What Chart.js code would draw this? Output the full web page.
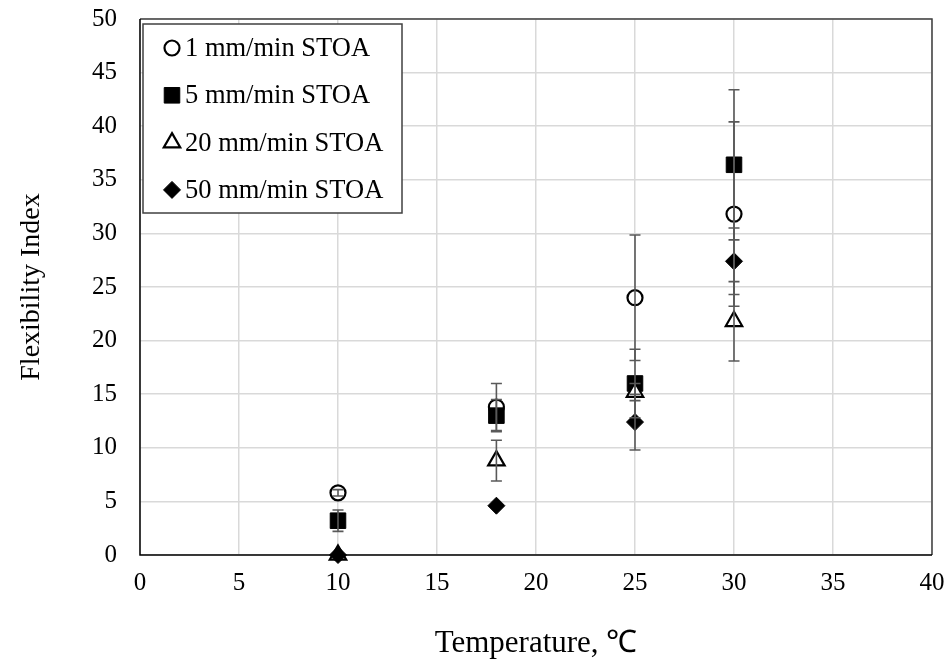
<!DOCTYPE html>
<html>
<head>
<meta charset="utf-8">
<script src="https://cdn.jsdelivr.net/npm/chart.js@4/dist/chart.umd.min.js"></script>
<style>
  html, body { margin: 0; padding: 0; background: #fff; }
  #wrap { width: 951px; height: 669px; }
</style>
</head>
<body>
<div id="wrap"><canvas id="c" width="951" height="669"></canvas></div>
<script>
// Test temperatures (°C)
const temps = [10, 18, 25, 30];

// Flexibility index means and standard deviations per loading rate
const fi1 = [5.8, 13.8, 24.0, 31.8];
const sd1 = [0.3, 2.2, 5.85, 8.6];
const fi5 = [3.2, 13.0, 16.0, 36.4];
const sd5 = [1.0, 1.5, 3.2, 7.0];
const fi20 = [0, 8.8, 15.2, 21.8];
const sd20 = [0, 1.9, 0.8, 3.7];
const fi50 = [0, 4.6, 12.4, 27.4];
const sd50 = [0, 0, 2.6, 3.1];

const seriesNames = ['1 mm/min STOA', '5 mm/min STOA', '20 mm/min STOA', '50 mm/min STOA'];
const xTicks = [0, 5, 10, 15, 20, 25, 30, 35, 40];
const yTicks = [0, 5, 10, 15, 20, 25, 30, 35, 40, 45, 50];

const FONT = "'Liberation Serif', 'Times New Roman', serif";

const pts = (ys) => temps.map((t, i) => ({ x: t, y: ys[i] }));

const styles = [
  { pointStyle: 'circle', radius: 7.5, bg: '#ffffff', border: '#000000', bw: 2.2 },
  { pointStyle: 'rect', radius: 11, bg: '#000000', border: '#000000', bw: 1 },
  { pointStyle: 'triangle', radius: 9.5, bg: '#ffffff', border: '#000000', bw: 2.2 },
  { pointStyle: 'rectRot', radius: 8.5, bg: '#000000', border: '#000000', bw: 1 }
];
const values = [fi1, fi5, fi20, fi50];
const errors = [sd1, sd5, sd20, sd50];

// Later series sit on top of earlier ones
const datasets = values.map((v, k) => ({
  label: seriesNames[k],
  data: pts(v),
  errors: errors[k],
  order: values.length - k,
  pointStyle: styles[k].pointStyle,
  pointRadius: styles[k].radius,
  pointHoverRadius: styles[k].radius,
  pointBackgroundColor: styles[k].bg,
  pointBorderColor: styles[k].border,
  pointBorderWidth: styles[k].bw,
  showLine: false,
  clip: false
}));

// Symmetric error bars
const errorBars = {
  id: 'errorBars',
  afterDatasetsDraw(chart) {
    const { ctx, scales: { x, y } } = chart;
    ctx.save();
    ctx.strokeStyle = '#595959';
    ctx.lineWidth = 1.6;
    chart.data.datasets.forEach((ds) => {
      ds.data.forEach((p, i) => {
        const e = ds.errors[i];
        if (!e) return;
        const px = x.getPixelForValue(p.x);
        const y1 = y.getPixelForValue(p.y + e);
        const y2 = y.getPixelForValue(p.y - e);
        ctx.beginPath();
        ctx.moveTo(px, y1); ctx.lineTo(px, y2);
        ctx.moveTo(px - 5.5, y1); ctx.lineTo(px + 5.5, y1);
        ctx.moveTo(px - 5.5, y2); ctx.lineTo(px + 5.5, y2);
        ctx.stroke();
      });
    });
    ctx.restore();
  }
};

// Frame around the plot area
const frame = {
  id: 'frame',
  beforeDatasetsDraw(chart) {
    const { ctx, chartArea: a } = chart;
    ctx.save();
    ctx.strokeStyle = '#404040';
    ctx.lineWidth = 1.5;
    ctx.beginPath();
    ctx.moveTo(a.left, a.top); ctx.lineTo(a.right, a.top); ctx.lineTo(a.right, a.bottom);
    ctx.stroke();
    ctx.strokeStyle = '#000000';
    ctx.beginPath();
    ctx.moveTo(a.left, a.top); ctx.lineTo(a.left, a.bottom); ctx.lineTo(a.right, a.bottom);
    ctx.stroke();
    ctx.restore();
  }
};

function marker(ctx, style, x, y, r, fill, stroke, bw) {
  ctx.save();
  ctx.fillStyle = fill; ctx.strokeStyle = stroke; ctx.lineWidth = bw;
  ctx.beginPath();
  if (style === 'circle') {
    ctx.arc(x, y, r, 0, Math.PI * 2);
  } else if (style === 'rect') {
    const s = r * Math.SQRT1_2;
    ctx.rect(x - s, y - s, 2 * s, 2 * s);
  } else if (style === 'triangle') {
    for (let k = 0; k < 3; k++) {
      const a = k * 2 * Math.PI / 3;
      const px = x + Math.sin(a) * r, py = y - Math.cos(a) * r;
      k ? ctx.lineTo(px, py) : ctx.moveTo(px, py);
    }
    ctx.closePath();
  } else {
    ctx.moveTo(x, y - r); ctx.lineTo(x + r, y); ctx.lineTo(x, y + r); ctx.lineTo(x - r, y);
    ctx.closePath();
  }
  ctx.fill(); ctx.stroke();
  ctx.restore();
}

// Boxed legend inside the top-left of the plot
const boxLegend = {
  id: 'boxLegend',
  afterDraw(chart) {
    const { ctx, chartArea: a } = chart;
    const x0 = a.left + 3, y0 = a.top + 5, w = 259, h = 189;
    ctx.save();
    ctx.fillStyle = '#ffffff';
    ctx.fillRect(x0, y0, w, h);
    ctx.strokeStyle = '#404040';
    ctx.lineWidth = 1.5;
    ctx.strokeRect(x0, y0, w, h);
    ctx.font = '26.5px ' + FONT;
    ctx.fillStyle = '#000000';
    ctx.textBaseline = 'middle';
    ctx.textAlign = 'left';
    chart.data.datasets.forEach((ds, k) => {
      const cy = y0 + 24 + k * 47.3;
      const st = styles[k];
      marker(ctx, st.pointStyle, x0 + 29, cy, st.radius, st.bg, st.border, st.bw);
      ctx.fillText(ds.label, x0 + 42, cy + 1);
    });
    ctx.restore();
  }
};

new Chart(document.getElementById('c'), {
  type: 'scatter',
  data: { datasets },
  plugins: [frame, errorBars, boxLegend],
  options: {
    responsive: false,
    animation: false,
    events: [],
    layout: { padding: { top: 19, right: 19, left: 0, bottom: 0 } },
    plugins: { legend: { display: false }, tooltip: { enabled: false } },
    scales: {
      x: {
        type: 'linear', min: 0, max: 40,
        afterBuildTicks(s) { s.ticks = xTicks.map(v => ({ value: v })); },
        afterFit(s) { s.height = 114; s.paddingLeft = 0; s.paddingRight = 0; },
        grid: { color: '#d9d9d9', lineWidth: 1.5, drawTicks: false },
        border: { display: false },
        ticks: { color: '#000', padding: 13, font: { family: FONT, size: 25 }, maxRotation: 0 },
        title: { display: true, text: 'Temperature, ℃', color: '#000', font: { family: FONT, size: 31 }, padding: { top: 0, bottom: 7 } }
      },
      y: {
        type: 'linear', min: 0, max: 50,
        afterBuildTicks(s) { s.ticks = yTicks.map(v => ({ value: v })); },
        afterFit(s) { s.width = 140; s.paddingTop = 0; s.paddingBottom = 0; },
        grid: { color: '#d9d9d9', lineWidth: 1.5, drawTicks: false },
        border: { display: false },
        ticks: { color: '#000', padding: 23, font: { family: FONT, size: 25 } },
        title: { display: true, text: 'Flexibility Index', color: '#000', font: { family: FONT, size: 28 }, padding: { top: 15, bottom: 0 } }
      }
    }
  }
});
</script>
</body>
</html>
